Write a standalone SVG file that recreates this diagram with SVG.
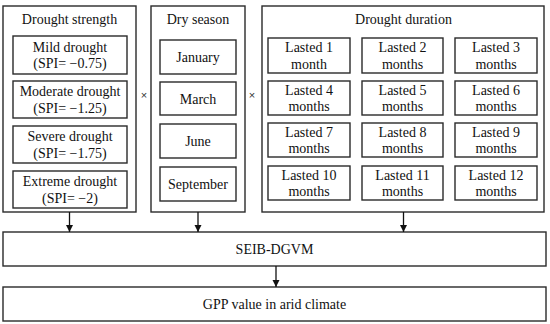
<svg xmlns="http://www.w3.org/2000/svg" width="550" height="324" viewBox="0 0 550 324" font-family="'Liberation Serif', 'DejaVu Serif', serif">
<defs>
<style>
rect{fill:#fff;stroke:#2a2a2a;stroke-width:1.4}
text{font-family:'Liberation Serif','Times New Roman','DejaVu Serif',serif;font-size:14px;fill:#111;text-anchor:middle}
text.x{font-family:'Liberation Sans',Arial,sans-serif;font-size:11px;fill:#333}
.c{stroke:#111;stroke-width:1.3;fill:none;marker-end:url(#ah)}
</style>
<marker id="ah" viewBox="0 0 10 10" refX="10" refY="5" markerWidth="7" markerHeight="10" markerUnits="userSpaceOnUse" orient="auto">
<path d="M0,0 L10,5 L0,10 Z" fill="#111"/>
</marker>
</defs>
<rect width="550" height="324" style="fill:#fff;stroke:none"/>

<g id="drought-strength">
<rect x="3" y="6" width="133" height="206"/>
<text x="69.5" y="24">Drought strength</text>
<g id="mild"><rect x="13" y="36" width="114" height="38"/><text x="70" y="51.5">Mild drought</text><text x="70" y="68">(SPI= −0.75)</text></g>
<g id="moderate"><rect x="13" y="81" width="114" height="37"/><text x="70" y="96">Moderate drought</text><text x="70" y="112.5">(SPI= −1.25)</text></g>
<g id="severe"><rect x="13" y="126" width="114" height="37"/><text x="70" y="141">Severe drought</text><text x="70" y="157.5">(SPI= −1.75)</text></g>
<g id="extreme"><rect x="13" y="171" width="114" height="37"/><text x="70" y="186">Extreme drought</text><text x="70" y="202.5">(SPI= −2)</text></g>
</g>

<text class="x" x="144" y="99">×</text>

<g id="dry-season">
<rect x="151" y="6" width="94" height="206"/>
<text x="198" y="24">Dry season</text>
<g id="january"><rect x="160" y="40" width="76" height="34"/><text x="198" y="62">January</text></g>
<g id="march"><rect x="160" y="82" width="76" height="33"/><text x="198" y="103.5">March</text></g>
<g id="june"><rect x="160" y="124" width="76" height="34"/><text x="198" y="146">June</text></g>
<g id="september"><rect x="160" y="167" width="76" height="34"/><text x="198" y="189">September</text></g>
</g>

<text class="x" x="252" y="99">×</text>

<g id="drought-duration">
<rect x="262" y="6" width="282" height="206"/>
<text x="403.5" y="24">Drought duration</text>
<g id="m1"><rect x="268" y="38" width="82" height="35"/><text x="309" y="52">Lasted 1</text><text x="309" y="68.5">month</text></g>
<g id="m2"><rect x="362" y="38" width="81" height="35"/><text x="402.5" y="52">Lasted 2</text><text x="402.5" y="68.5">months</text></g>
<g id="m3"><rect x="455" y="38" width="82" height="35"/><text x="496" y="52">Lasted 3</text><text x="496" y="68.5">months</text></g>
<g id="m4"><rect x="268" y="81" width="82" height="34"/><text x="309" y="94.5">Lasted 4</text><text x="309" y="111">months</text></g>
<g id="m5"><rect x="362" y="81" width="81" height="34"/><text x="402.5" y="94.5">Lasted 5</text><text x="402.5" y="111">months</text></g>
<g id="m6"><rect x="455" y="81" width="82" height="34"/><text x="496" y="94.5">Lasted 6</text><text x="496" y="111">months</text></g>
<g id="m7"><rect x="268" y="123" width="82" height="34"/><text x="309" y="136.5">Lasted 7</text><text x="309" y="153">months</text></g>
<g id="m8"><rect x="362" y="123" width="81" height="34"/><text x="402.5" y="136.5">Lasted 8</text><text x="402.5" y="153">months</text></g>
<g id="m9"><rect x="455" y="123" width="82" height="34"/><text x="496" y="136.5">Lasted 9</text><text x="496" y="153">months</text></g>
<g id="m10"><rect x="268" y="166" width="82" height="34"/><text x="309" y="179.5">Lasted 10</text><text x="309" y="196">months</text></g>
<g id="m11"><rect x="362" y="166" width="81" height="34"/><text x="402.5" y="179.5">Lasted 11</text><text x="402.5" y="196">months</text></g>
<g id="m12"><rect x="455" y="166" width="82" height="34"/><text x="496" y="179.5">Lasted 12</text><text x="496" y="196">months</text></g>
</g>

<g id="seib-dgvm">
<rect x="3" y="232" width="543" height="34"/>
<text x="274.5" y="254">SEIB-DGVM</text>
</g>

<g id="gpp">
<rect x="3" y="287" width="543" height="34"/>
<text x="274.5" y="309">GPP value in arid climate</text>
</g>

<g id="connectors">
<line class="c" x1="69.5" y1="212" x2="69.5" y2="232"/>
<line class="c" x1="198" y1="212" x2="198" y2="232"/>
<line class="c" x1="403.5" y1="212" x2="403.5" y2="232"/>
<line class="c" x1="276" y1="266" x2="276" y2="287"/>
</g>
</svg>
